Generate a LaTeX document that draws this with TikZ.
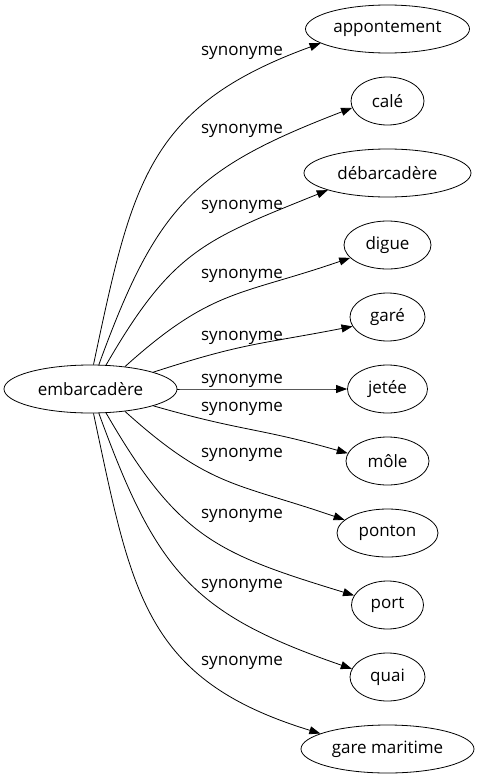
\documentclass[tikz,border=0pt]{standalone}
\usepackage{fontspec}
\setmainfont{Open Sans}
\usetikzlibrary{shapes.geometric, arrows.meta}
\tikzset{
  wort/.style={draw, ellipse, line width=0.8pt, minimum height=48pt, inner sep=0pt,
    font=\fontsize{17}{20}\selectfont},
  bez/.style={anchor=base, inner sep=0pt, font=\fontsize{17}{20}\selectfont},
  pfeil/.style={line width=0.8pt, -{Triangle[length=11pt, width=8pt]}}
}
\begin{document}
\begin{tikzpicture}[x=1pt, y=-1pt]
  \useasboundingbox (0,0) rectangle (480,779);
  % Ausgangswort
  \node[wort, minimum width=173pt] (emb) at (90.5,389) {embarcadère};
  % Synonyme rechts, alle auf einer Spalte
  \foreach \n/\t/\y/\w in {app/appontement/29/164, cale/calé/101/73,
      deb/débarcadère/173/167, digue/digue/245/87, gare/garé/317/75,
      jetee/jetée/389/80, mole/môle/461/83, ponton/ponton/533/101,
      port/port/605/72, quai/quai/677/75, garem/gare maritime/749/173}{
    \node[wort, minimum width=\w pt] (\n) at (387.5,\y) {\t};
  }
  % Kanten: Startwinkel / out / Zielwinkel / in
  \foreach \n/\s/\o/\e/\i in {app/83/78/192/200, cale/71/70/191/201,
      deb/57/60/196/202, digue/33/42/199/199, gare/15/18/195/191,
      jetee/0/0/180/180, mole/345/344/169/164, ponton/327/318/163/161,
      port/303/300/164/163, quai/289/290/167/161, garem/277/282/167/163}{
    \draw[pfeil] (emb.\s) to[out=\o, in=\i, looseness=1.2] (\n.\e);
  }
  % Beschriftungen
  \foreach \y [count=\k] in {55,133,209,278,340,383,411,457,518,588,665}{
    \node[bez] (lab\k) at (242,\y) {synonyme};
  }
\end{tikzpicture}
\end{document}
